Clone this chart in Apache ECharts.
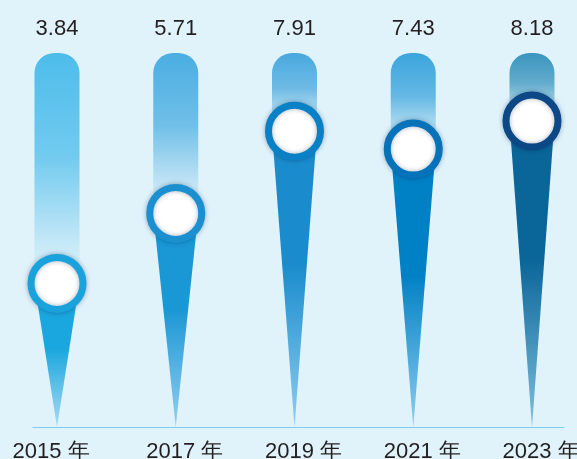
<!DOCTYPE html>
<html><head><meta charset="utf-8">
<script src="https://cdn.jsdelivr.net/npm/echarts@6/dist/echarts.min.js"></script>
<style>html,body{margin:0;padding:0;background:#e0f2fa;}#c{width:577px;height:459px;}</style>
</head><body><div id="c"></div>
<script>
const years = ['2015 年', '2017 年', '2019 年', '2021 年', '2023 年'];
const values = [3.84, 5.71, 7.91, 7.43, 8.18];
const trackMax = 10;

const capColors = ['#4dbdeb', '#4aaee2', '#48a8de', '#3ba5dd', '#3a95bf'];
const ringColors = ['#1aa2dc', '#1b8fd0', '#0a80c6', '#0672ba', '#0d4886'];
const triTop = ['#1aa6de', '#1a97d5', '#1a8ccd', '#0080c5', '#0a6598'];
const triBottom = ['#a8dbf4', '#93cff0', '#8ecdef', '#8ecdef', '#7dbfdd'];

function hexA(h, a) {
  const r = parseInt(h.slice(1,3),16), g = parseInt(h.slice(3,5),16), b = parseInt(h.slice(5,7),16);
  return 'rgba(' + r + ',' + g + ',' + b + ',' + a + ')';
}

const chart = echarts.init(document.getElementById('c'), null, {renderer: 'canvas'});
const data = values.map((v, i) => [i, v]);

chart.setOption({
  backgroundColor: '#e0f2fa',
  animation: false,
  grid: {left: 33, right: 13, top: 53, bottom: 32, containLabel: false, outerBoundsMode: 'none'},
  xAxis: {
    type: 'value', min: -0.2021, max: 4.2695,
    splitLine: {show: false},
    axisTick: {show: false},
    axisLine: {show: true, lineStyle: {color: '#7fcdef', width: 1}},
    axisLabel: {
      customValues: [0, 1, 2, 3, 4],
      margin: 14,
      hideOverlap: false,
      formatter: function (v) {
        const i = Math.round(v);
        return (i === 0 ? '{f|' : '{n|') + years[i] + '}';
      },
      rich: {
        f: {fontSize: 22, color: '#231f20', fontFamily: 'Liberation Sans, Arial, sans-serif', padding: [0, 12, 0, 0]},
        n: {fontSize: 22, color: '#231f20', fontFamily: 'Liberation Sans, Arial, sans-serif', padding: [0, 0, 0, 18]}
      }
    }
  },
  yAxis: {type: 'value', min: 0, max: trackMax, show: false, splitLine: {show: false}},
  series: [{
    type: 'custom',
    data: data,
    clip: false,
    renderItem: function (params, api) {
      const i = api.value(0);
      const v = api.value(1);
      const c = api.coord([i, v]);
      const top = api.coord([i, trackMax]);
      const base = api.coord([i, 0]);
      const w = 45;
      const cx = c[0];
      return {
        type: 'group',
        children: [
          {
            type: 'rect',
            shape: {x: cx - w / 2, y: top[1], width: w, height: c[1] - top[1], r: [20, 20, 0, 0]},
            style: {fill: {type: 'linear', x: 0, y: 0, x2: 0, y2: 1, colorStops: [
              {offset: 0, color: capColors[i]},
              {offset: 0.45, color: hexA(capColors[i], 0.75)},
              {offset: 0.85, color: hexA(capColors[i], 0.15)},
              {offset: 1, color: hexA(capColors[i], 0.0)}
            ]}}
          },
          {
            type: 'polygon',
            shape: {points: [[cx - w / 2, c[1]], [cx + w / 2, c[1]], [cx, base[1]]]},
            style: {fill: {type: 'linear', x: 0, y: 0, x2: 0, y2: 1, colorStops: [
              {offset: 0, color: triTop[i]},
              {offset: 0.45, color: triTop[i]},
              {offset: 1, color: triBottom[i]}
            ]}}
          },
          {
            type: 'circle',
            shape: {cx: cx, cy: c[1], r: 26},
            style: {fill: '#ffffff', stroke: ringColors[i], lineWidth: 7,
              shadowBlur: 5, shadowColor: 'rgba(0,40,80,0.35)'}
          },
          {
            type: 'text',
            x: cx, y: top[1] - 24,
            style: {text: String(v.toFixed(2)), fill: '#231f20', fontSize: 22,
              fontFamily: 'Liberation Sans, Arial, sans-serif', align: 'center', verticalAlign: 'middle'}
          }
        ]
      };
    }
  }]
});
</script></body></html>
